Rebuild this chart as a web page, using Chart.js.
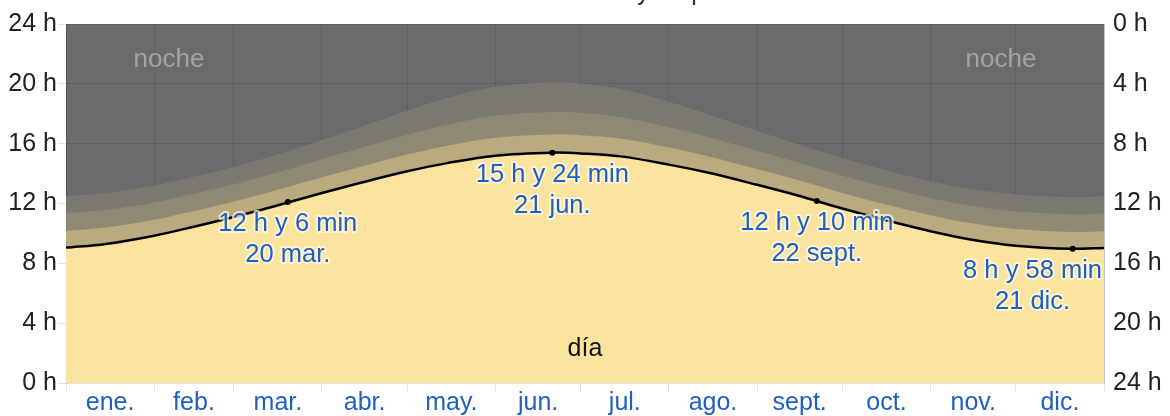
<!DOCTYPE html>
<html>
<head>
<meta charset="utf-8">
<script src="https://cdn.jsdelivr.net/npm/chart.js@4.4.1/dist/chart.umd.min.js"></script>
<style>
  html, body { margin: 0; padding: 0; background: #ffffff; }
  #wrap { width: 1170px; height: 416px; }
</style>
</head>
<body>
<div id="wrap"><canvas id="c" width="1170" height="416"></canvas></div>
<script>
// ---- data ----
const titleText = 'Horas de luz natural y crepúsculo';
const months = ['ene.','feb.','mar.','abr.','may.','jun.','jul.','ago.','sept.','oct.','nov.','dic.'];
const monthStarts = [0,31,59,90,120,151,181,212,243,273,304,334,365];
const monthMids = [15.5,45,74.5,105,135.5,166,196.5,227.5,258,288.5,319,349.5];
const hourTicks = [0,4,8,12,16,20,24];

const sampleDays  = [0,14,31,45,59,73,90,104,120,134,151,171,181,195,212,226,243,257,273,287,304,318,334,354,365];
const dayLength   = [9.05,9.3,9.85,10.45,11.1,11.8,12.7,13.4,14.15,14.7,15.2,15.4,15.35,15.15,14.6,14.05,13.25,12.55,11.67,10.95,10.15,9.6,9.18,8.97,9.03];
const civilEnd    = [10.17,10.4,10.92,11.5,12.14,12.84,13.75,14.48,15.27,15.86,16.4,16.62,16.57,16.34,15.74,15.15,14.31,13.59,12.71,12.0,11.22,10.69,10.29,10.1,10.15];
const nauticalEnd = [11.35,11.57,12.07,12.65,13.28,14.0,14.95,15.72,16.6,17.27,17.87,18.12,18.05,17.78,17.1,16.43,15.52,14.76,13.86,13.15,12.37,11.85,11.46,11.28,11.33];
const astroEnd    = [12.5,12.7,13.2,13.78,14.45,15.2,16.25,17.15,18.2,19.05,19.8,20.1,20.03,19.65,18.8,17.95,16.85,16.0,15.04,14.29,13.5,12.98,12.6,12.43,12.48];

const eventDays   = [78, 171, 264, 354];
const eventHours  = [12.1, 15.4, 12.1667, 8.9667];
const eventLine1  = ['12 h y 6 min', '15 h y 24 min', '12 h y 10 min', '8 h y 58 min'];
const eventLine2  = ['20 mar.', '21 jun.', '22 sept.', '21 dic.'];

const nightLabel = 'noche';
const dayLabel = 'día';

// ---- styles ----
const FONT = 'Arial, "Liberation Sans", sans-serif';
const BLUE = '#1f5fc4';
const C_NIGHT = '#6b6b6b';
const C_ASTRO = '#7c7970';
const C_NAUT  = '#8f8873';
const C_CIVIL = '#b9aa80';
const C_DAY   = '#fae29f';
const GRID = 'rgba(0,0,0,0.10)';

function pts(vals) { return sampleDays.map((d, i) => ({ x: d, y: vals[i] })); }

function band(vals, color, order) {
  return {
    data: pts(vals), borderWidth: 0, pointRadius: 0, fill: 'origin',
    backgroundColor: color, borderColor: color, tension: 0.35, order: order
  };
}

const bgPlugin = {
  id: 'bg',
  beforeDraw(chart) {
    const { ctx, chartArea: a } = chart;
    ctx.save();
    ctx.fillStyle = C_NIGHT;
    ctx.fillRect(a.left, a.top, a.right - a.left, a.bottom - a.top);
    ctx.restore();
  }
};

const textPlugin = {
  id: 'texts',
  afterDraw(chart) {
    const { ctx, chartArea: a } = chart;
    const xs = chart.scales.x, ys = chart.scales.y;
    ctx.save();
    // cut-off title (only descenders visible)
    ctx.font = '25px ' + FONT;
    ctx.fillStyle = '#333333';
    ctx.textAlign = 'left';
    ctx.textBaseline = 'alphabetic';
    const pre = ctx.measureText('Horas de luz natural ').width;
    ctx.fillText(titleText, 637 - pre, 0);

    // noche / día
    ctx.textAlign = 'center';
    ctx.textBaseline = 'middle';
    ctx.font = '26px ' + FONT;
    ctx.fillStyle = '#a3a3a3';
    ctx.fillText(nightLabel, a.left + 103, a.top + 36);
    ctx.fillText(nightLabel, a.right - 103, a.top + 36);
    ctx.font = '25px ' + FONT;
    ctx.fillStyle = '#111111';
    ctx.fillText(dayLabel, (a.left + a.right) / 2, a.bottom - 34);

    // event labels
    ctx.font = '25.5px ' + FONT;
    ctx.lineJoin = 'round';
    for (let i = 0; i < eventDays.length; i++) {
      const px = xs.getPixelForValue(eventDays[i]);
      const py = ys.getPixelForValue(eventHours[i]);
      const w = Math.max(ctx.measureText(eventLine1[i]).width, ctx.measureText(eventLine2[i]).width);
      let cx = px;
      if (cx + w / 2 > a.right - 2) cx = a.right - 2 - w / 2;
      if (cx - w / 2 < a.left) cx = a.left + w / 2;
      const lines = [[eventLine1[i], py + 22], [eventLine2[i], py + 53]];
      for (const [t, y] of lines) {
        ctx.strokeStyle = 'rgba(255,250,225,0.75)';
        ctx.lineWidth = 4;
        ctx.strokeText(t, cx, y);
        ctx.fillStyle = BLUE;
        ctx.fillText(t, cx, y);
      }
    }
    ctx.restore();
  }
};

new Chart(document.getElementById('c'), {
  type: 'line',
  data: {
    datasets: [
      {
        data: eventDays.map((d, i) => ({ x: d, y: eventHours[i] })),
        showLine: false, pointRadius: 3, pointBackgroundColor: '#000', pointBorderWidth: 0,
        order: -1
      },
      {
        data: pts(dayLength), borderWidth: 2.5, borderColor: '#000', pointRadius: 0,
        fill: 'origin', backgroundColor: C_DAY, tension: 0.35,
        order: 0
      },
      band(civilEnd, C_CIVIL, 1),
      band(nauticalEnd, C_NAUT, 2),
      band(astroEnd, C_ASTRO, 3)
    ]
  },
  options: {
    responsive: false,
    animation: false,
    events: [],
    layout: { padding: { top: 21, left: 0, right: 0, bottom: 0 } },
    plugins: { legend: { display: false }, tooltip: { enabled: false }, title: { display: false } },
    scales: {
      x: {
        type: 'linear', min: 0, max: 365, position: 'bottom', z: 1,
        afterBuildTicks: s => { s.ticks = monthStarts.map(v => ({ value: v })); },
        afterFit: s => { s.height = 0; },
        ticks: { display: false },
        grid: { color: GRID, tickLength: 9, drawTicks: true },
        border: { display: false }
      },
      xl: {
        type: 'linear', min: 0, max: 365, position: 'bottom',
        afterBuildTicks: s => { s.ticks = monthMids.map(v => ({ value: v })); },
        afterFit: s => { s.height = 33; },
        ticks: {
          autoSkip: false, maxRotation: 0, padding: 5, color: BLUE,
          font: { family: FONT, size: 25 },
          callback: (v, i) => months[i]
        },
        grid: { display: false, drawTicks: false },
        border: { display: false }
      },
      y: {
        type: 'linear', min: 0, max: 24, position: 'left', z: 1,
        afterBuildTicks: s => { s.ticks = hourTicks.map(v => ({ value: v })); },
        afterFit: s => { s.width = 66; },
        ticks: {
          padding: 1, color: '#222', font: { family: FONT, size: 25 },
          callback: v => v + ' h'
        },
        grid: { color: GRID, tickLength: 8 },
        border: { color: 'rgba(0,0,0,0.15)' }
      },
      y2: {
        type: 'linear', min: 0, max: 24, position: 'right', reverse: true,
        afterBuildTicks: s => { s.ticks = hourTicks.map(v => ({ value: v })); },
        afterFit: s => { s.width = 66; },
        ticks: {
          padding: 9, color: '#222', font: { family: FONT, size: 25 },
          callback: v => v + ' h'
        },
        grid: { display: false, drawTicks: false },
        border: { color: 'rgba(0,0,0,0.15)' }
      }
    }
  },
  plugins: [bgPlugin, textPlugin]
});
</script>
</body>
</html>
